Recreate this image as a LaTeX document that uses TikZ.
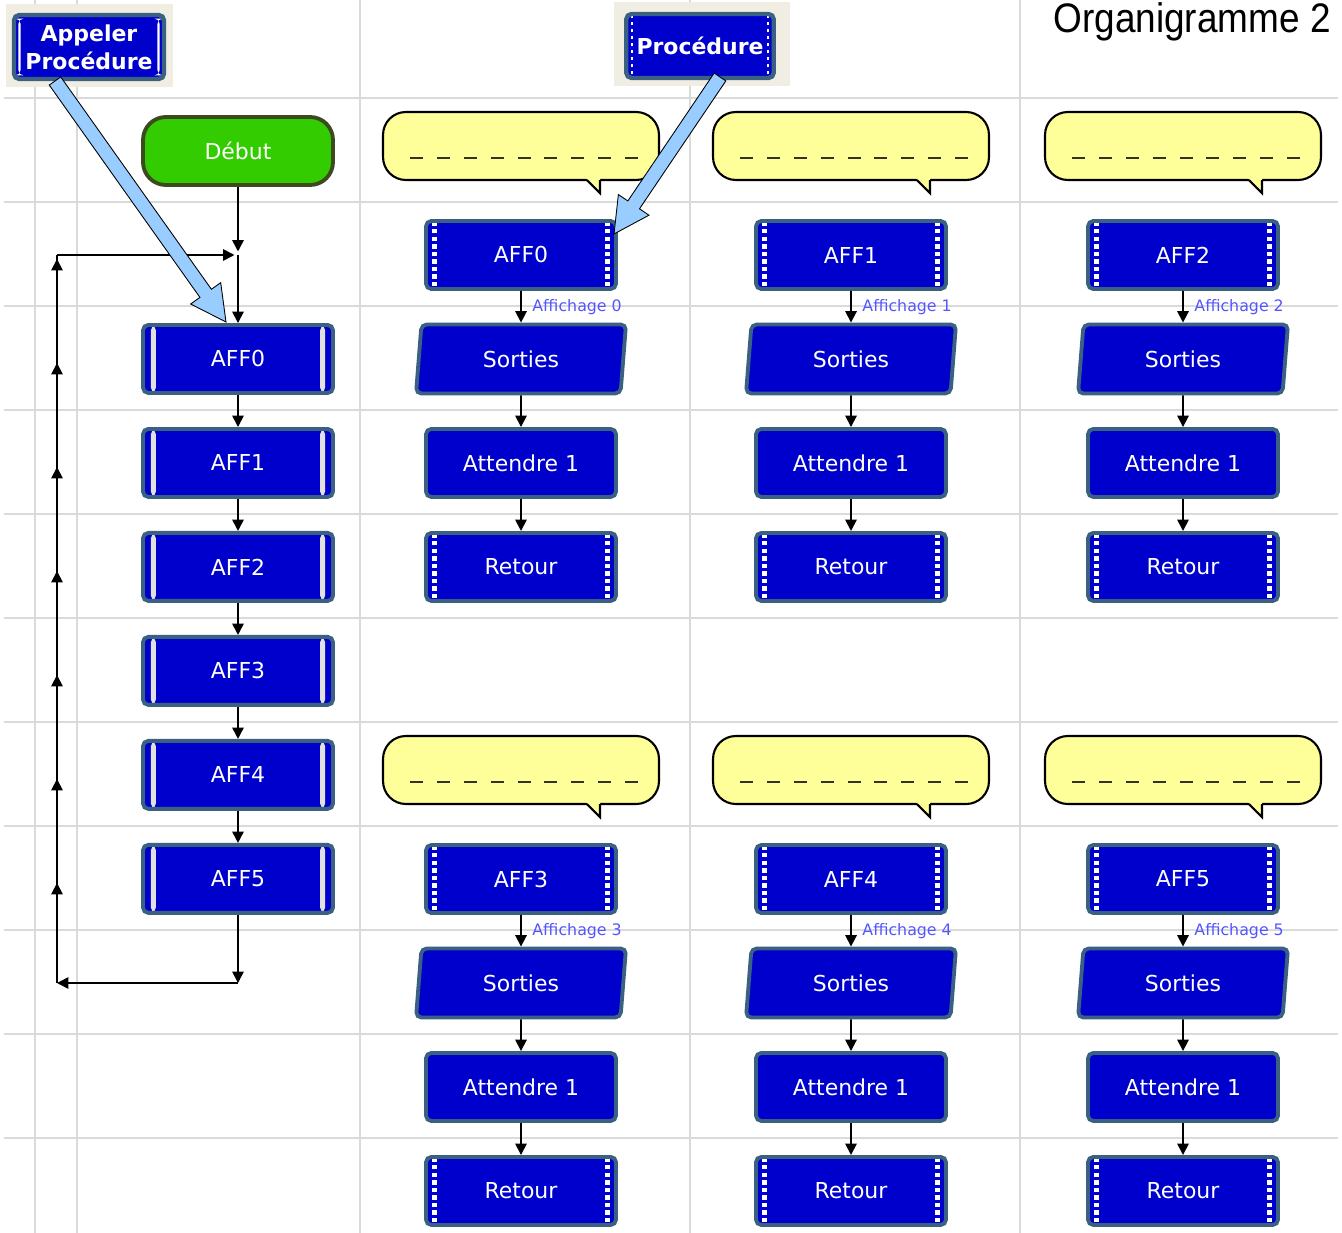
\documentclass[tikz,border=0pt]{standalone}
\usepackage{fontspec}
\setmainfont{DejaVu Sans}
\newfontfamily\titrefont{Liberation Sans}
\usetikzlibrary{positioning,calc,shapes.geometric,arrows.meta,decorations.markings}

\definecolor{bleuboite}{RGB}{0,0,204}
\definecolor{bordboite}{RGB}{58,96,130}
\definecolor{vertdebut}{RGB}{51,204,0}
\definecolor{borddebut}{RGB}{60,75,30}
\definecolor{jaunebulle}{RGB}{255,255,153}
\definecolor{bleufleche}{RGB}{153,204,255}
\definecolor{gris}{RGB}{218,218,218}
\definecolor{beige}{RGB}{240,238,226}
\definecolor{bleulegende}{RGB}{85,85,255}
\definecolor{barre}{RGB}{225,225,225}
\definecolor{trait}{RGB}{50,50,40}

\tikzstyle{boite} = [draw=bordboite, fill=bleuboite, line width=2.2pt, rounded corners=3pt, text=white, font=\fontsize{12.5}{15}\selectfont, minimum width=3.8cm, minimum height=1.36cm, inner sep=0pt]
\tikzstyle{barres} = [path picture={
    \fill[barre] ([xshift=4.5pt]path picture bounding box.south west) rectangle ([xshift=7.3pt]path picture bounding box.north west);
    \fill[barre] ([xshift=-4.5pt]path picture bounding box.south east) rectangle ([xshift=-7.3pt]path picture bounding box.north east);}]
\tikzstyle{pointilles} = [path picture={
    \draw[white, line width=3pt, dash pattern=on 2.5pt off 1.8pt] ([xshift=4.8pt,yshift=1.5pt]path picture bounding box.south west) -- ([xshift=4.8pt]path picture bounding box.north west);
    \draw[white, line width=3pt, dash pattern=on 2.5pt off 1.8pt] ([xshift=-4.8pt,yshift=1.5pt]path picture bounding box.south east) -- ([xshift=-4.8pt]path picture bounding box.north east);}]
\tikzstyle{barresfines} = [path picture={
    \fill[white] ([xshift=2.5pt,yshift=2pt]path picture bounding box.south west) rectangle ([xshift=3.7pt,yshift=-2pt]path picture bounding box.north west);
    \fill[white] ([xshift=-2.5pt,yshift=2pt]path picture bounding box.south east) rectangle ([xshift=-3.7pt,yshift=-2pt]path picture bounding box.north east);}]
\tikzstyle{pointillesfins} = [path picture={
    \draw[white, line width=1.6pt, dash pattern=on 2pt off 2pt] ([xshift=3.3pt,yshift=2pt]path picture bounding box.south west) -- ([xshift=3.3pt]path picture bounding box.north west);
    \draw[white, line width=1.6pt, dash pattern=on 2pt off 2pt] ([xshift=-3.3pt,yshift=2pt]path picture bounding box.south east) -- ([xshift=-3.3pt]path picture bounding box.north east);}]
\tikzstyle{debut} = [boite, fill=vertdebut, draw=borddebut, rounded corners=13pt]
\tikzstyle{sorties} = [boite, trapezium, trapezium left angle=83, trapezium right angle=97, trapezium stretches=true, minimum width=4.22cm, minimum height=1.38cm]
\tikzstyle{legende} = [boite, font=\bfseries\fontsize{12.5}{16}\selectfont, align=center, line width=2.5pt, minimum height=1.28cm]
\tikzstyle{bulle} = [draw=black, fill=jaunebulle, line width=1.2pt, rounded corners=13pt, minimum width=5.52cm, minimum height=1.36cm]
\tikzstyle{tirets} = [draw=trait, line width=1.7pt, dash pattern=on 7.4pt off 7.9pt]
\tikzstyle{fleche} = [-{Triangle[length=6.5pt,width=6.5pt]}, line width=1pt]
\tikzstyle{boucle} = [line width=1pt, postaction={decorate}, decoration={markings, mark=between positions 0.1374 and 0.999 step 0.14286 with {\arrow{Triangle[length=6.5pt,width=6.5pt]}}}]
\tikzstyle{affichage} = [anchor=west, text=bleulegende, font=\fontsize{9}{10}\selectfont, inner sep=1pt, xshift=5pt]
\tikzstyle{grille} = [draw=gris, line width=1.2pt]
\tikzstyle{grossefleche} = [fill=bleufleche, draw=black, line width=0.5pt, line join=miter]

\newcommand{\flechebleue}[2]{%
    \coordinate (#2-base) at ($(#2)!20pt!(#1)$);
    \filldraw[grossefleche] ($(#1)!4pt!90:(#2)$) -- ($(#2-base)!4pt!90:(#2)$) -- ($(#2-base)!10.5pt!90:(#2)$) -- (#2)
        -- ($(#2-base)!10.5pt!-90:(#2)$) -- ($(#2-base)!4pt!-90:(#2)$) -- ($(#1)!4pt!-90:(#2)$) -- cycle;}

\begin{document}
\begin{tikzpicture}[x=0.02cm, y=-0.02cm, node distance=2.08cm, on grid]
\useasboundingbox (0,0) rectangle (1342,1233);

\foreach \x in {35,77,360,690,1020}
    \draw[grille] (\x,0) -- (\x,1233);
\foreach \y in {98,202,...,1138}
    \draw[grille] (4,\y) -- (1338,\y);

\fill[beige] (6,4) rectangle (173,87);
\fill[beige] (614,2) rectangle (790,86);
\node[legende, barresfines, minimum width=3cm] (appeler) at (89,47) {Appeler\\Procédure};
\node[legende, pointillesfins, minimum width=2.95cm] (procedure) at (700,46) {Procédure};

\node[font=\titrefont\fontsize{23.5}{25}\selectfont, anchor=base east, inner sep=0pt] (titre) at (1331,33) {\scalebox{0.895}[1]{Organigramme 2}};

\node[debut] (debut) at (238,151) {Début};
\node[boite, barres, below=4.16cm of debut] (main0) {AFF0};
\foreach \i [remember=\i as \j (initially 0)] in {1,...,5}
    \node[boite, barres, below=of main\j] (main\i) {AFF\i};

\coordinate (jonction) at (238,255);
\coordinate (haut) at (57,255);
\coordinate (pied) at (238,983);
\coordinate (coin) at (57,983);

\draw[fleche, shorten >=2pt] (debut) -- (jonction);
\draw[fleche] (jonction) -- (main0);
\foreach \i [remember=\i as \j (initially 0)] in {1,...,5}
    \draw[fleche] (main\j) -- (main\i);
\draw[fleche] (main5) -- (pied);
\draw[fleche] (pied) -- (coin);
\draw[boucle] (coin) -- (haut);
\draw[fleche, shorten >=2pt] (haut) -- (jonction);

\foreach \n/\x/\y in {0/521/146, 1/851/146, 2/1183/146, 3/521/770, 4/851/770, 5/1183/770}{
    \node[bulle] (bulle\n) at (\x,\y) {};
    \fill[jaunebulle] ($(bulle\n.south)+(64,-4)$) -- ($(bulle\n.south)+(79,12)$) -- ($(bulle\n.south)+(79,-4)$) -- cycle;
    \draw[line width=1.2pt] ($(bulle\n.south)+(66,-1)$) -- ($(bulle\n.south)+(79,12)$) -- ($(bulle\n.south)+(79,-1)$);
    \draw[tirets] ($(bulle\n.center)+(-111,12)$) -- ($(bulle\n.center)+(119,12)$);
    \node[boite, pointilles] (aff\n) at (\x,\y+109) {AFF\n};
    \node[sorties, below=of aff\n] (sorties\n) {Sorties};
    \node[boite, below=of sorties\n] (attendre\n) {Attendre 1};
    \node[boite, pointilles, below=of attendre\n] (retour\n) {Retour};
    \draw[fleche] (aff\n) -- node[affichage] {Affichage \n} (sorties\n);
    \draw[fleche] (sorties\n) -- (attendre\n);
    \draw[fleche] (attendre\n) -- (retour\n);
}

\coordinate (depart1) at (55,81);
\coordinate (pointe1) at (226,322);
\coordinate (depart2) at (720,77);
\coordinate (pointe2) at (614,234);
\flechebleue{depart1}{pointe1}
\flechebleue{depart2}{pointe2}
\end{tikzpicture}
\end{document}
